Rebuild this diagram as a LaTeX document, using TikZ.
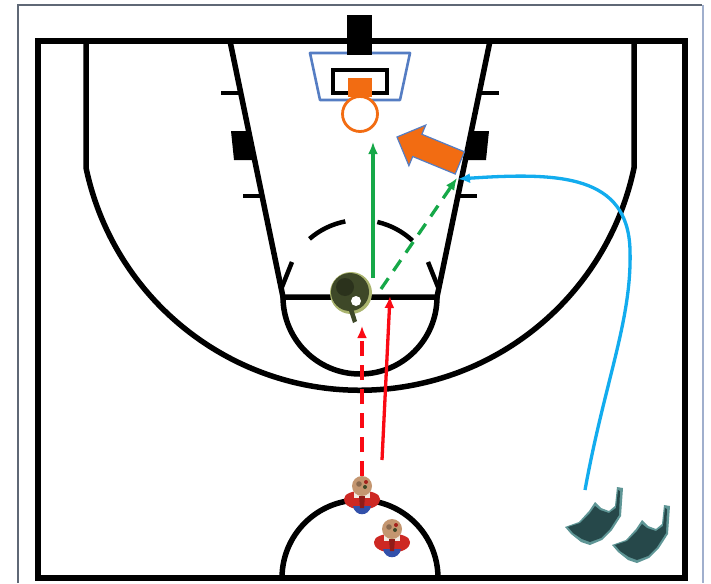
\documentclass[tikz,border=0pt]{standalone}
\usetikzlibrary{arrows.meta,calc}
\definecolor{framegray}{RGB}{95,104,118}
\definecolor{frameside}{RGB}{160,175,205}
\definecolor{boardblue}{RGB}{85,125,195}
\definecolor{rimorange}{RGB}{242,108,18}
\definecolor{passgreen}{RGB}{22,168,72}
\definecolor{cutblue}{RGB}{18,172,238}
\definecolor{runred}{RGB}{250,10,20}
\definecolor{defolive}{RGB}{62,72,40}
\definecolor{defolivelight}{RGB}{170,180,110}
\definecolor{defteal}{RGB}{38,72,74}
\definecolor{deftealedge}{RGB}{95,150,150}
\definecolor{skin}{RGB}{196,150,112}
\definecolor{shirtred}{RGB}{205,40,35}
\definecolor{shortsblue}{RGB}{50,80,170}
\tikzset{
  court/.style={line width=5.5pt, black},
  courtthin/.style={line width=4.5pt, black},
  pass/.style={line width=3.3pt, -{Latex[length=12pt,width=10pt]}},
  offense/.pic={
    \fill[shirtred] (-18,2) .. controls (-18,-9) and (18,-9) .. (18,2)
      .. controls (18,16) and (-18,16) .. cycle;
    \fill[white!80!skin] (-8,-5) rectangle (8,1);
    \fill[shortsblue] (-9,9) .. controls (-7,20) and (7,20) .. (9,9) -- cycle;
    \fill[shirtred!70!black] (-3,-1) -- (3,-1) -- (2,11) -- (-2,11) -- cycle;
    \fill[skin] (0,-11) circle (10);
    \fill[skin!70!black] (-3,-13) circle (2.8);
    \fill[defolive] (3,-10) circle (2);
    \fill[shirtred!80!black] (4,-15) circle (2);
  },
  defender/.pic={
    \fill[defolivelight] (0,0) circle (21);
    \fill[defolive] (-1,-1) circle (19);
    \fill[defolive!70!black] (-6,-6) circle (9);
    \fill[white] (5,8) circle (5);
    \fill[defolive] (-4,12) -- (1,12) -- (6,28) -- (2,30) -- cycle;
  },
  guard/.pic={
    \fill[deftealedge] (-33,9) -- (-19,4) -- (-9,-7) -- (-3,-16) -- (3,-10)
      -- (11,-7) -- (17,-12) -- (19,-31) -- (25,-30) -- (23,-2) -- (14,12)
      -- (4,22) -- (-8,27) -- (-17,24) -- (-27,16) -- cycle;
    \fill[defteal] (-30,9) -- (-18,5) -- (-8,-5) -- (-3,-12) -- (2,-8)
      -- (11,-5) -- (18,-10) -- (20,-28) -- (22,-27) -- (21,-3) -- (12,11)
      -- (3,20) -- (-8,24) -- (-16,21) -- (-25,15) -- cycle;
  }
}
\begin{document}
\begin{tikzpicture}[x=1pt,y=-1pt]
\useasboundingbox (0,0) rectangle (711,583);
\fill[white] (0,0) rectangle (711,583);

% sheet border
\draw[framegray, line width=2pt] (18,583) -- (18,5) -- (702,5);
\draw[frameside, line width=2pt] (703,5) -- (703,583);

% half court outline
\draw[court] (38,41) rectangle (685,578);

% three point line
\draw[court] (86,41) -- (86,167.65)
  arc[start angle=168.16, end angle=11.84, radius=280] -- (634,41);

% lane and free throw line
\draw[court, line join=miter] (230,41) -- (283,297) -- (437,297) -- (490,41);

% free throw circle: solid lower half, dashed upper pieces
\draw[court] (437,297) arc[start angle=0, end angle=180, radius=77];
\draw[courtthin] (360,297) ++(229:77) arc[start angle=229, end angle=259, radius=77];
\draw[courtthin] (360,297) ++(283:77) arc[start angle=283, end angle=313, radius=77];

% lane marks, left side
\draw[courtthin] (221,93) -- (241,93);
\fill (231,131) -- (249,131) -- (255,160) -- (234,160) -- cycle;
\draw[courtthin] (243,196) -- (262,196);
\draw[courtthin] (282,287) -- (292,262);
% lane marks, right side
\draw[courtthin] (499,93) -- (479,93);
\fill (489,131) -- (471,131) -- (465,160) -- (486,160) -- cycle;
\draw[courtthin] (477,196) -- (458,196);
\draw[courtthin] (438,287) -- (428,262);

% centre circle
\draw[court] (282,578) arc[start angle=180, end angle=360, radius=78];

% basket: stanchion, backboard, rim
\draw[boardblue, line width=2.6pt, fill=white, line join=round]
  (310,53) -- (410,53) -- (400,100) -- (320,100) -- cycle;
\fill[black] (347,15) rectangle (372,55);
\draw[black, line width=3.4pt] (333,70) rectangle (387,93);
\fill[rimorange] (348,78) rectangle (372,97);
\draw[rimorange, line width=2.8pt, fill=white] (360,114) circle (17.5);

% big orange arrow toward the basket
\draw[boardblue, line width=1.2pt, fill=rimorange, line join=miter]
  (397,137) -- (425.7,125.1) -- (421.9,134.3) -- (464.4,151.8)
  -- (455.2,174.0) -- (412.7,156.5) -- (408.9,165.7) -- cycle;

% players
\coordinate (post) at (351,293);
\coordinate (o1) at (362,497);
\coordinate (o2) at (392,540);
\coordinate (d1) at (598,518);
\coordinate (d2) at (645,536);
\pic at (post) {defender};
\pic at (o1) {offense};
\pic at (o2) {offense};
\pic at (d1) {guard};
\pic at (d2) {guard};

% movement endpoints
\coordinate (gs) at (373,278);
\coordinate (ge) at (373,142);
\coordinate (gds) at (381,289);
\coordinate (gde) at (457,178);
\coordinate (rs) at (382,460);
\coordinate (re) at (390,296);
\coordinate (rds) at (362,476);
\coordinate (rde) at (362,326);
\coordinate (bs) at (585,490);
\coordinate (be) at (458,179);

% passes and cuts
\draw[pass, passgreen] (gs) -- (ge);
\draw[pass, passgreen, dash pattern=on 13pt off 9pt] (gds) -- (gde);
\draw[pass, runred] (rs) -- (re);
\draw[pass, runred, dash pattern=on 15pt off 9pt] (rds) -- (rde);
\draw[pass, cutblue] (bs) .. controls (605,380) and (632,320) .. (630,250)
  .. controls (628,175) and (560,172) .. (be);
\end{tikzpicture}
\end{document}
